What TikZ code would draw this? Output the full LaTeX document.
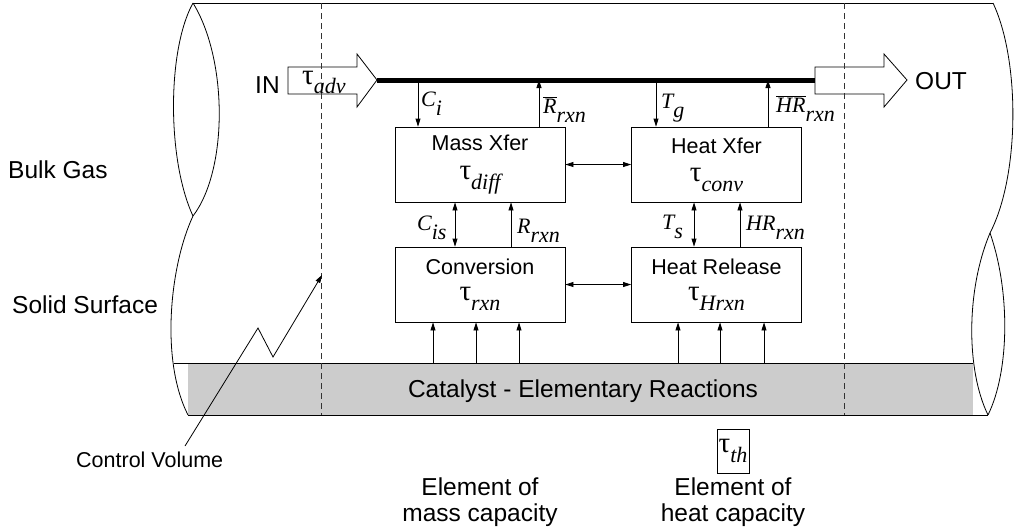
\documentclass[tikz,border=0pt]{standalone}
\usepackage{fontspec}
\setmainfont{Liberation Sans}
\newfontfamily\tms{Liberation Serif}
\usetikzlibrary{arrows.meta,calc}
\newcommand{\bigfont}{\fontsize{24.5}{26}\selectfont}
\newcommand{\boxfont}{\fontsize{21.5}{22}\selectfont}
\newcommand{\cvfont}{\fontsize{21.5}{22}\selectfont}
\newcommand{\varfont}{\fontsize{22}{24}\selectfont\tms}
\newcommand{\tauc}{{\fontsize{29}{29}\selectfont τ}}
\newcommand{\vsym}[2]{#1\raisebox{-0.45em}{\itshape #2}}
\newcommand{\ovl}[1]{$\overline{\hbox{#1}}$}
\tikzset{
  pipe/.style  ={line width=.8pt},
  cvline/.style={black!80,line width=.8pt,dash pattern=on 6pt off 4pt},
  proc/.style  ={draw,line width=.8pt,minimum width=170pt,minimum height=75pt,inner sep=0pt,align=center,font=\boxfont},
  tbox/.style  ={draw,line width=.8pt,minimum width=32pt,minimum height=44pt,inner sep=0pt,font=\varfont},
  hollow/.style={draw,fill=white,line width=.8pt},
  flow/.style  ={-{Triangle[length=8pt,width=5pt]},line width=.8pt},
  flow2/.style ={{Triangle[length=8pt,width=5pt]}-{Triangle[length=8pt,width=5pt]},line width=.8pt},
  big/.style   ={font=\bigfont,inner sep=0pt},
  var/.style   ={font=\varfont,inner sep=0pt,anchor=base west},
}

\begin{document}
\begin{tikzpicture}[x=1pt,y=-1pt]
\useasboundingbox (0,0) rectangle (1015,531);

% ---------------- catalyst layer ----------------
\fill[black!20] (188,363) rectangle (973,415);
\draw[pipe] (174,363) -- (973,363);
\draw[pipe] (188,415) -- (988,415);
\node[big,anchor=base] (cat) at (583,397) {Catalyst - Elementary Reactions};
\coordinate (band) at (0,363);

% ---------------- pipe walls (broken ends) ----------------
\draw[pipe] (193,3) -- (993,3);
\draw[pipe] (193,3) .. controls (167,50) and (167,160) .. (193,216);
\draw[pipe] (193,3) .. controls (228,60) and (228,170) .. (193,216)
  .. controls (170,265) and (160,360) .. (188,415);
\draw[pipe] (993,3) .. controls (1020,60) and (1020,175) .. (990,233)
  .. controls (966,290) and (966,370) .. (988,415);
\draw[pipe] (990,233) .. controls (1010,290) and (1010,370) .. (988,415);

% ---------------- advection in / out ----------------
\draw[hollow] (288,67) -- (357,67) -- (357,54) -- (377,80) -- (357,107) -- (357,94) -- (288,94) -- cycle;
\draw[hollow] (815,67) -- (884,67) -- (884,54) -- (907,80) -- (884,107) -- (884,94) -- (815,94) -- cycle;
\coordinate (intip) at (377,80);
\coordinate (outtail) at (815,80);
\draw[line width=5pt] (intip) -- (outtail);
\coordinate (bar) at (0,80);
\node[var] (tadv) at (302,84) {\vsym{\tauc}{adv}};
\node[big,anchor=base west] (in) at (255,93) {IN};
\node[big,anchor=base west] (out) at (915,89) {OUT};

% ---------------- control volume ----------------
\draw[cvline] (321,3) -- (321,415);
\draw[cvline] (844,3) -- (844,415);

% ---------------- blocks ----------------
\node[proc] (mass) at (480,164.5) {Mass Xfer\\[7pt]{\varfont\vsym{\tauc}{diff}}};
\node[proc] (heat) at (716.5,164.5) {Heat Xfer\\[6pt]{\varfont\vsym{\tauc}{conv}}};
\node[proc] (conv) at (480,284.5) {Conversion\\[4pt]{\varfont\vsym{\tauc}{rxn}}};
\node[proc] (hrel) at (716.5,284.5) {Heat Release\\[4pt]{\varfont\vsym{\tauc}{Hrxn}}};

% ---------------- bulk gas <-> surface ----------------
\draw[flow] ([xshift=-62pt]mass.north |- bar) -- ([xshift=-62pt]mass.north);
\draw[flow] ([xshift=59pt]mass.north) -- ([xshift=59pt]mass.north |- bar);
\draw[flow] ([xshift=-60.5pt]heat.north |- bar) -- ([xshift=-60.5pt]heat.north);
\draw[flow] ([xshift=51.5pt]heat.north) -- ([xshift=51.5pt]heat.north |- bar);
\node[var] (ci) at (421,106) {\vsym{\itshape C}{i}};
\node[var] (rbar) at (543,113) {\ovl{\itshape R}\vsym{}{rxn}};
\node[var] (tg) at (661,108) {\vsym{\itshape T}{g}};
\node[var] (hrbar) at (776,112) {\ovl{\itshape HR}\vsym{}{rxn}};

\draw[flow2] (mass.east) -- (heat.west);
\draw[flow2] (conv.east) -- (hrel.west);

\draw[flow2] ([xshift=-25pt]mass.south) -- ([xshift=-25pt]conv.north);
\draw[flow] ([xshift=31pt]conv.north) -- ([xshift=31pt]mass.south);
\draw[flow2] ([xshift=-22.5pt]heat.south) -- ([xshift=-22.5pt]hrel.north);
\draw[flow] ([xshift=23.5pt]hrel.north) -- ([xshift=23.5pt]heat.south);
\node[var] (cis) at (417,230) {\vsym{\itshape C}{is}};
\node[var] (rr) at (517,233) {\vsym{\itshape R}{rxn}};
\node[var] (ts) at (662,229) {\vsym{\itshape T}{s}};
\node[var] (hrr) at (746,230) {\vsym{\itshape HR}{rxn}};

% ---------------- catalyst -> blocks ----------------
\foreach \dx in {-47,-4,39}
  \draw[flow] ([xshift=\dx pt]conv.south |- band) -- ([xshift=\dx pt]conv.south);
\foreach \dx in {-38.5,3.5,47.5}
  \draw[flow] ([xshift=\dx pt]hrel.south |- band) -- ([xshift=\dx pt]hrel.south);

% ---------------- side labels ----------------
\node[big,anchor=base west] (bulk) at (8,178) {Bulk Gas};
\node[big,anchor=base west] (solid) at (12,313) {Solid Surface};
\node[font=\cvfont,inner sep=0pt,anchor=base west] (cvlab) at (76,467) {Control Volume};
\coordinate (cvfoot) at (185,446);
\draw[flow] (cvfoot) -- (258,328) -- (273,357) -- (322,275);

\node[big,align=center] (emass) at (480,502) {Element of\\mass capacity};
\node[big,align=center] (eheat) at (733,502) {Element of\\heat capacity};
\node[tbox] (tth) at (733,451) {\vsym{\tauc}{th}};

\end{tikzpicture}
\end{document}
